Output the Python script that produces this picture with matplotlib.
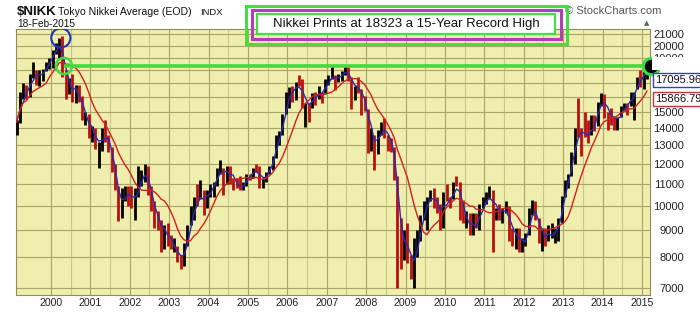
import matplotlib
matplotlib.use('Agg')
import matplotlib.pyplot as plt
import numpy as np
import pandas as pd
from matplotlib.patches import Rectangle
from matplotlib.ticker import FixedLocator, FuncFormatter

plt.rcParams['font.family'] = ['Liberation Sans', 'DejaVu Sans']

# ---------------- data (monthly, Feb-1999 .. Feb-2015) ----------------
start_month = '1999-02'
high = [14500, 16400, 17000, 16900, 17700, 18600, 18000, 18000, 18100, 18600, 19000,
        19600, 20200, 20700, 20833, 18000, 17400, 17700, 16900, 16900, 16100, 15000, 14900,
        14100, 14000, 13200, 14000, 14500, 13600, 12900, 12000, 10900, 10800, 10900, 10900,
        10900, 10800, 11900, 11700, 12000, 11900, 10900, 10200, 9800, 9400, 9200, 9300,
        8800, 8700, 8400, 8100, 8500, 9200, 10000, 10400, 11000, 11200, 10700, 10700,
        11000, 11100, 11800, 12200, 11800, 11900, 11900, 11300, 11300, 11400, 11100, 11500,
        11500, 11800, 12000, 11900, 11300, 11600, 11900, 12400, 13600, 13800, 14900, 16400,
        16700, 16800, 17100, 17600, 17300, 15600, 15600, 16300, 16400, 16800, 16400, 17300,
        17600, 18300, 17600, 17700, 17900, 18300, 18262, 17500, 16800, 17500, 16600, 16100,
        15200, 14000, 13600, 13900, 14400, 14600, 13600, 13400, 12900, 11400, 9500, 9000,
        9300, 8100, 8700, 9000, 9600, 10200, 10400, 10700, 10800, 10400, 10100, 10600,
        10980, 10400, 11100, 11400, 11100, 10250, 9800, 9700, 9700, 9700, 10100, 10400,
        10600, 10900, 10700, 9900, 10100, 9900, 10200, 10000, 9100, 9100, 9100, 8700,
        8900, 9900, 10260, 10200, 9500, 9100, 9100, 9200, 9300, 9100, 9500, 10450,
        11200, 11500, 12650, 14000, 15940, 14000, 15000, 14500, 14800, 14800, 15700, 16300,
        16200, 15000, 15300, 14700, 14700, 15400, 15600, 15600, 16400, 16400, 17500, 18030,
        17900, 18350]
low = [13600, 14300, 15900, 15900, 16000, 17400, 16900, 16800, 17200, 17900, 18100,
       18200, 19300, 19000, 17500, 15900, 16200, 15700, 15600, 15700, 14500, 14200, 13400,
       13200, 12800, 11800, 12700, 13200, 12600, 11600, 10700, 9380, 9500, 10200, 10000,
       9900, 9400, 10400, 10900, 11100, 10500, 9800, 9100, 9000, 8200, 8300, 8400,
       8300, 8200, 7860, 7604, 7700, 8400, 9200, 9400, 10000, 10300, 9600, 9900,
       10400, 10400, 10900, 11500, 10500, 11000, 11000, 10700, 10800, 10700, 10700, 10900,
       11200, 11300, 11600, 10800, 10800, 11100, 11500, 11700, 12300, 13000, 13600, 14900,
       15300, 15700, 15800, 16800, 15300, 14050, 14400, 15300, 15500, 15900, 15600, 16200,
       16900, 17300, 16500, 17100, 17200, 17600, 17200, 15200, 15800, 16300, 14800, 15100,
       12570, 12700, 11690, 12500, 13600, 13400, 12700, 12600, 11200, 6995, 7600, 7900,
       7800, 7300, 7021, 8000, 8600, 9400, 9000, 10200, 9900, 9700, 9000, 9100,
       10200, 9900, 10300, 10900, 9400, 9300, 9100, 8800, 8800, 9100, 9000, 9900,
       10100, 10300, 8200, 9400, 9400, 9300, 9700, 8600, 8400, 8300, 8200, 8200,
       8400, 8800, 9600, 9400, 8500, 8240, 8400, 8600, 8700, 8500, 8600, 9300,
       10400, 10800, 11400, 12000, 13500, 12400, 13500, 13100, 13600, 13800, 14100, 15400,
       14600, 13900, 14200, 13900, 13900, 14700, 15100, 14800, 15400, 14500, 16600, 16700,
       16600, 17300]
close = [14368, 15837, 16702, 16112, 17530, 17862, 17437, 17605, 17942, 18558, 18934,
         19540, 19960, 20337, 17974, 16332, 17411, 15727, 16861, 15747, 14540, 14649, 13786,
         13843, 12884, 12999, 13934, 13262, 12969, 11861, 10713, 9775, 10367, 10697, 10543,
         9998, 10588, 11025, 11493, 11764, 10622, 9878, 9620, 9383, 8640, 9216, 8579,
         8340, 8363, 7973, 7831, 8425, 9083, 9563, 10344, 10219, 10560, 10101, 10677,
         10784, 11042, 11715, 11762, 11236, 11859, 11326, 11082, 10824, 10771, 11013, 11489,
         11388, 11741, 11669, 11009, 11277, 11584, 11900, 12414, 13574, 13607, 14872, 16111,
         16650, 16205, 17060, 16906, 15467, 15505, 15457, 16141, 16128, 16399, 16274, 17226,
         17383, 17604, 17288, 17400, 17876, 18138, 17249, 16569, 16786, 16738, 15681, 15308,
         13592, 13604, 12526, 13850, 14339, 13482, 13377, 13073, 11260, 8577, 8512, 8860,
         7994, 7568, 8110, 8828, 9523, 9958, 10357, 10493, 10133, 10035, 9346, 10546,
         10198, 10126, 11090, 11057, 9769, 9383, 9537, 8824, 9369, 9202, 9937, 10229,
         10238, 10624, 9755, 9850, 9694, 9816, 9833, 8955, 8700, 8988, 8435, 8455,
         8803, 9723, 10084, 9521, 8543, 9007, 8695, 8840, 8870, 8928, 9446, 10395,
         11139, 11559, 12398, 13861, 13775, 13677, 13668, 13389, 14456, 14328, 15662, 16291,
         14915, 14841, 14828, 14304, 14632, 15162, 15621, 15425, 16174, 16414, 17460, 17451,
         17674, 18323]

record_value = 18323
peak_value = 20833
year_labels = [str(y) for y in range(2000, 2016)]
y_label_values = [7000, 8000, 9000, 10000, 11000, 12000, 13000, 14000, 15000, 19000, 20000, 21000]
ma_fast_label = '17095.96'
ma_slow_label = '15866.79'

# ---------------- derived ----------------
dates = pd.period_range(start_month, periods=len(close), freq='M')
xpos = np.array([d.year + (d.month - 0.5) / 12.0 for d in dates])
high = np.array(high, float)
low = np.array(low, float)
close = np.array(close, float)
prev = np.r_[close[0] * 0.97, close[:-1]]
colors = np.where(close >= prev, '#000000', '#B81010')
ma_fast = pd.Series(close).rolling(3, min_periods=1).mean().values
ma_slow = pd.Series(close).rolling(10, min_periods=1).mean().values

# ---------------- figure ----------------
W, H = 700, 312
fig = plt.figure(figsize=(W / 100, H / 100), dpi=100)
fig.patch.set_facecolor('white')


def fx(px):
    return px / W


def fy(py):
    return 1 - py / H


ax = fig.add_axes([fx(16), fy(295), (650 - 16) / W, (295 - 29) / H])
ax.set_facecolor('#F0EEAC')
ax.set_yscale('log')
ax.set_xlim(1999.112, 2015.203)
ax.set_ylim(6800, 21500)

years = np.arange(2000, 2016)
ax.xaxis.set_major_locator(FixedLocator(years))
ax.xaxis.set_minor_locator(FixedLocator(years[:-1] + 0.5))
ax.set_xticklabels(year_labels)
ax.yaxis.set_major_locator(FixedLocator(np.arange(7000, 22000, 1000)))
ax.yaxis.set_minor_locator(FixedLocator([]))
ax.yaxis.set_major_formatter(FuncFormatter(lambda v, p: f'{int(round(v))}' if int(round(v)) in y_label_values else ''))
ax.yaxis.set_ticks_position('right')
ax.tick_params(axis='y', which='both', length=0, pad=24.5, labelsize=8, labelcolor='#222222')
ax.tick_params(axis='x', which='both', length=0, pad=2.5, labelsize=7.6, labelcolor='#222222')
for lab in ax.get_yticklabels():
    lab.set_horizontalalignment('right')

ax.grid(True, which='major', axis='both', color='#A8A56A', linewidth=0.8)
ax.grid(True, which='minor', axis='x', color='#C9C68A', linewidth=0.8)
ax.set_axisbelow(True)
for s in ax.spines.values():
    s.set_color('#8E8C5A')
    s.set_linewidth(0.8)

# price bars
ax.vlines(xpos, low, high, colors=colors, linewidth=2.0, zorder=3)
# moving averages
ax.plot(xpos, ma_fast, color='#2A2AB5', linewidth=1.0, zorder=4)
ax.plot(xpos, ma_slow, color='#D02020', linewidth=1.0, zorder=4)

# record line and circles
ax.plot([2000.33, 2015.203], [record_value, record_value], color='#3EDC3E', linewidth=2.6,
        zorder=5, solid_capstyle='butt', clip_on=False)
ax.scatter([2000.33], [record_value], s=135, facecolors='none', edgecolors='#3EDC3E',
           linewidths=1.8, zorder=6)
ax.scatter([2000.25], [peak_value - 150], s=190, facecolors='none', edgecolors='#2233BB',
           linewidths=1.5, zorder=6)
ax.scatter([xpos[-1] + 0.1], [record_value], s=140, facecolors='black', edgecolors='#3EDC3E',
           linewidths=2.2, zorder=7, clip_on=False)

# cover for partially hidden 19000 label
fig.patches.append(Rectangle((fx(652), fy(70)), (700 - 652) / W, 13 / H, transform=fig.transFigure,
                             facecolor='white', edgecolor='none', zorder=10))
# small triangle at top of y axis
fig.text(fx(647), fy(23), '\u25B2', fontsize=5, color='#4E6E4E', ha='center', va='center',
         family=['DejaVu Sans'])

# moving-average value tags
fig.text(fx(655), fy(80), ma_fast_label, fontsize=8, ha='left', va='center', color='#111111', zorder=11,
         bbox=dict(boxstyle='square,pad=0.15', fc='white', ec='#3344AA', lw=1.0))
fig.text(fx(655), fy(99), ma_slow_label, fontsize=8, ha='left', va='center', color='#111111', zorder=11,
         bbox=dict(boxstyle='square,pad=0.15', fc='white', ec='#CC3333', lw=1.0))

# header texts
fig.text(fx(17), fy(15), '$NIKK', fontsize=9.5, fontweight='bold', ha='left', va='baseline', color='#111111')
fig.text(fx(58), fy(15), 'Tokyo Nikkei Average (EOD)', fontsize=7.6, ha='left', va='baseline', color='#111111')
fig.text(fx(200), fy(15), 'INDX', fontsize=6.8, ha='left', va='baseline', color='#111111')
fig.text(fx(17), fy(27), '18-Feb-2015', fontsize=7.3, ha='left', va='baseline', color='#111111')
fig.text(fx(565), fy(14), '\u00A9 StockCharts.com', fontsize=8, ha='left', va='baseline', color='#555555')

# annotation box (triple border)
def frame(x0, y0, x1, y1, ec, lw, fc='none', z=12):
    fig.patches.append(Rectangle((fx(x0), fy(y1)), (x1 - x0) / W, (y1 - y0) / H, transform=fig.transFigure,
                                 facecolor=fc, edgecolor=ec, linewidth=lw, zorder=z))

frame(246, 6, 567, 44, '#44DD44', 2.2)
frame(252, 10, 561, 39, '#B040B8', 2.2)
frame(257, 14, 555, 34, '#44DD44', 1.6, fc='white')
fig.text(fx(406), fy(24), 'Nikkei Prints at 18323 a 15-Year Record High', fontsize=9.5,
         ha='center', va='center', color='#111111', zorder=13)

fig.savefig('out.png', dpi=100, facecolor='white')
